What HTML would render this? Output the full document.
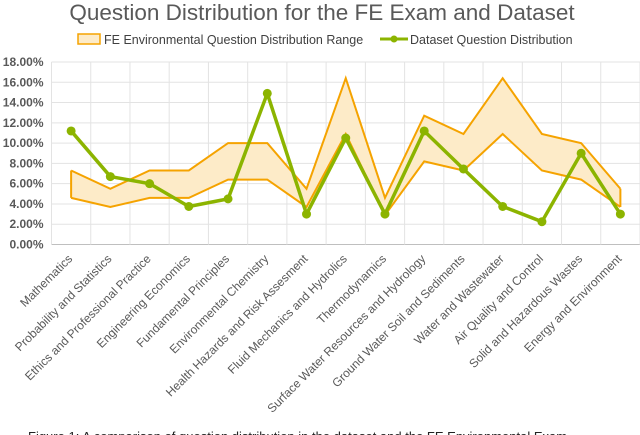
<!DOCTYPE html>
<html><head><meta charset="utf-8"><style>
body{margin:0;background:#fff;font-family:"Liberation Sans",sans-serif;overflow:hidden}
svg{display:block}
</style></head><body>
<svg width="640" height="435" viewBox="0 0 640 435">
<text x="322" y="20" text-anchor="middle" font-size="22.5" fill="#595959">Question Distribution for the FE Exam and Dataset</text>
<g>
<rect x="78" y="34" width="22" height="10" fill="#fdebc8" stroke="#f5a300" stroke-width="1.5"/>
<text x="104" y="44" font-size="12.5" fill="#404040">FE Environmental Question Distribution Range</text>
<line x1="380" y1="39" x2="408" y2="39" stroke="#8cb400" stroke-width="3"/>
<circle cx="394" cy="39" r="3.5" fill="#8cb400"/>
<text x="410" y="44" font-size="12.5" fill="#404040">Dataset Question Distribution</text>
</g>
<g id="grid"></g><g id="axes"></g><g id="series"></g><g id="xlabels"></g>
<text x="28" y="441" font-size="13" fill="#222">Figure 1: A comparison of question distribution in the dataset and the FE Environmental Exam</text>
</svg>
<script>
const categories=["Mathematics","Probability and Statistics","Ethics and Professional Practice","Engineering Economics","Fundamental Principles","Environmental Chemistry","Health Hazards and Risk Assesment","Fluid Mechanics and Hydrolics","Thermodynamics","Surface Water Resources and Hydrology","Ground Water Soil and Sediments","Water and Wastewater","Air Quality and Control","Solid and Hazardous Wastes","Energy and Environment"];
const datasetValues=[11.2,6.7,6.0,3.75,4.5,14.9,3.0,10.5,3.0,11.2,7.45,3.75,2.25,9.0,3.0];
const rangeUpper=[7.3,5.5,7.3,7.3,10.0,10.0,5.5,16.4,4.6,12.7,10.9,16.4,10.9,10.0,5.5];
const rangeLower=[4.6,3.7,4.6,4.6,6.4,6.4,3.7,10.9,2.9,8.2,7.3,10.9,7.3,6.4,3.7];
const yTicks=[0,2,4,6,8,10,12,14,16,18];
const NS="http://www.w3.org/2000/svg";
const L=51.5,R=640,T=62,B=244.5,yMax=18;
const step=(R-L)/categories.length;
const x=i=>L+step*(i+0.5);
const y=v=>B-(v/yMax)*(B-T);
function mk(p,tag,a){const e=document.createElementNS(NS,tag);for(const k in a)e.setAttribute(k,a[k]);p.appendChild(e);return e;}
const grid=document.getElementById('grid'),axes=document.getElementById('axes'),ser=document.getElementById('series'),xl=document.getElementById('xlabels');
yTicks.forEach(t=>{
 const ln=mk(grid,'line',{x1:L,x2:R,y1:y(t),y2:y(t),stroke:t===0?'#bfbfbf':'#e3e3e3','stroke-width':1});
 
 
 const tx=mk(axes,'text',{x:L-8,y:y(t)+4,'text-anchor':'end','font-size':12,'font-weight':'bold',fill:'#595959'});
 tx.textContent=t.toFixed(2)+'%';
 
 
});
for(let i=0;i<=categories.length;i++){
 const ln=mk(grid,'line',{x1:L+step*i,x2:L+step*i,y1:T,y2:B,stroke:'#e3e3e3','stroke-width':1});
 
 
}
let d='';
rangeUpper.forEach((v,i)=>d+=(i?'L':'M')+x(i)+','+y(v));
for(let i=rangeLower.length-1;i>=0;i--)d+='L'+x(i)+','+y(rangeLower[i]);
d+='Z';
const band=mk(ser,'path',{d:d,fill:'#fdebc8',stroke:'none'});


[[rangeUpper,'range-upper-line'],[rangeLower,'range-lower-line']].forEach(([arr,nm])=>{
 const pl=mk(ser,'polyline',{points:arr.map((v,i)=>x(i)+','+y(v)).join(' '),fill:'none',stroke:'#f5a300','stroke-width':2});
 
 
});
const side=mk(ser,'path',{d:`M${x(0)},${y(rangeUpper[0])}L${x(0)},${y(rangeLower[0])}M${x(14)},${y(rangeUpper[14])}L${x(14)},${y(rangeLower[14])}`,stroke:'#f5a300','stroke-width':2,fill:'none'});


const gl=mk(ser,'polyline',{points:datasetValues.map((v,i)=>x(i)+','+y(v)).join(' '),fill:'none',stroke:'#8cb400','stroke-width':3.5,'stroke-linejoin':'round'});


datasetValues.forEach((v,i)=>{
 const c=mk(ser,'circle',{cx:x(i),cy:y(v),r:4.5,fill:'#8cb400'});
 
 
});
categories.forEach((c,i)=>{
 const ax=x(i)+2,ay=B+15;
 const tx=mk(xl,'text',{x:ax,y:ay,'text-anchor':'end','font-size':12,fill:'#595959',transform:`rotate(-45 ${ax} ${ay})`});
 tx.textContent=c;
 
 
});
</script>
</body></html>
